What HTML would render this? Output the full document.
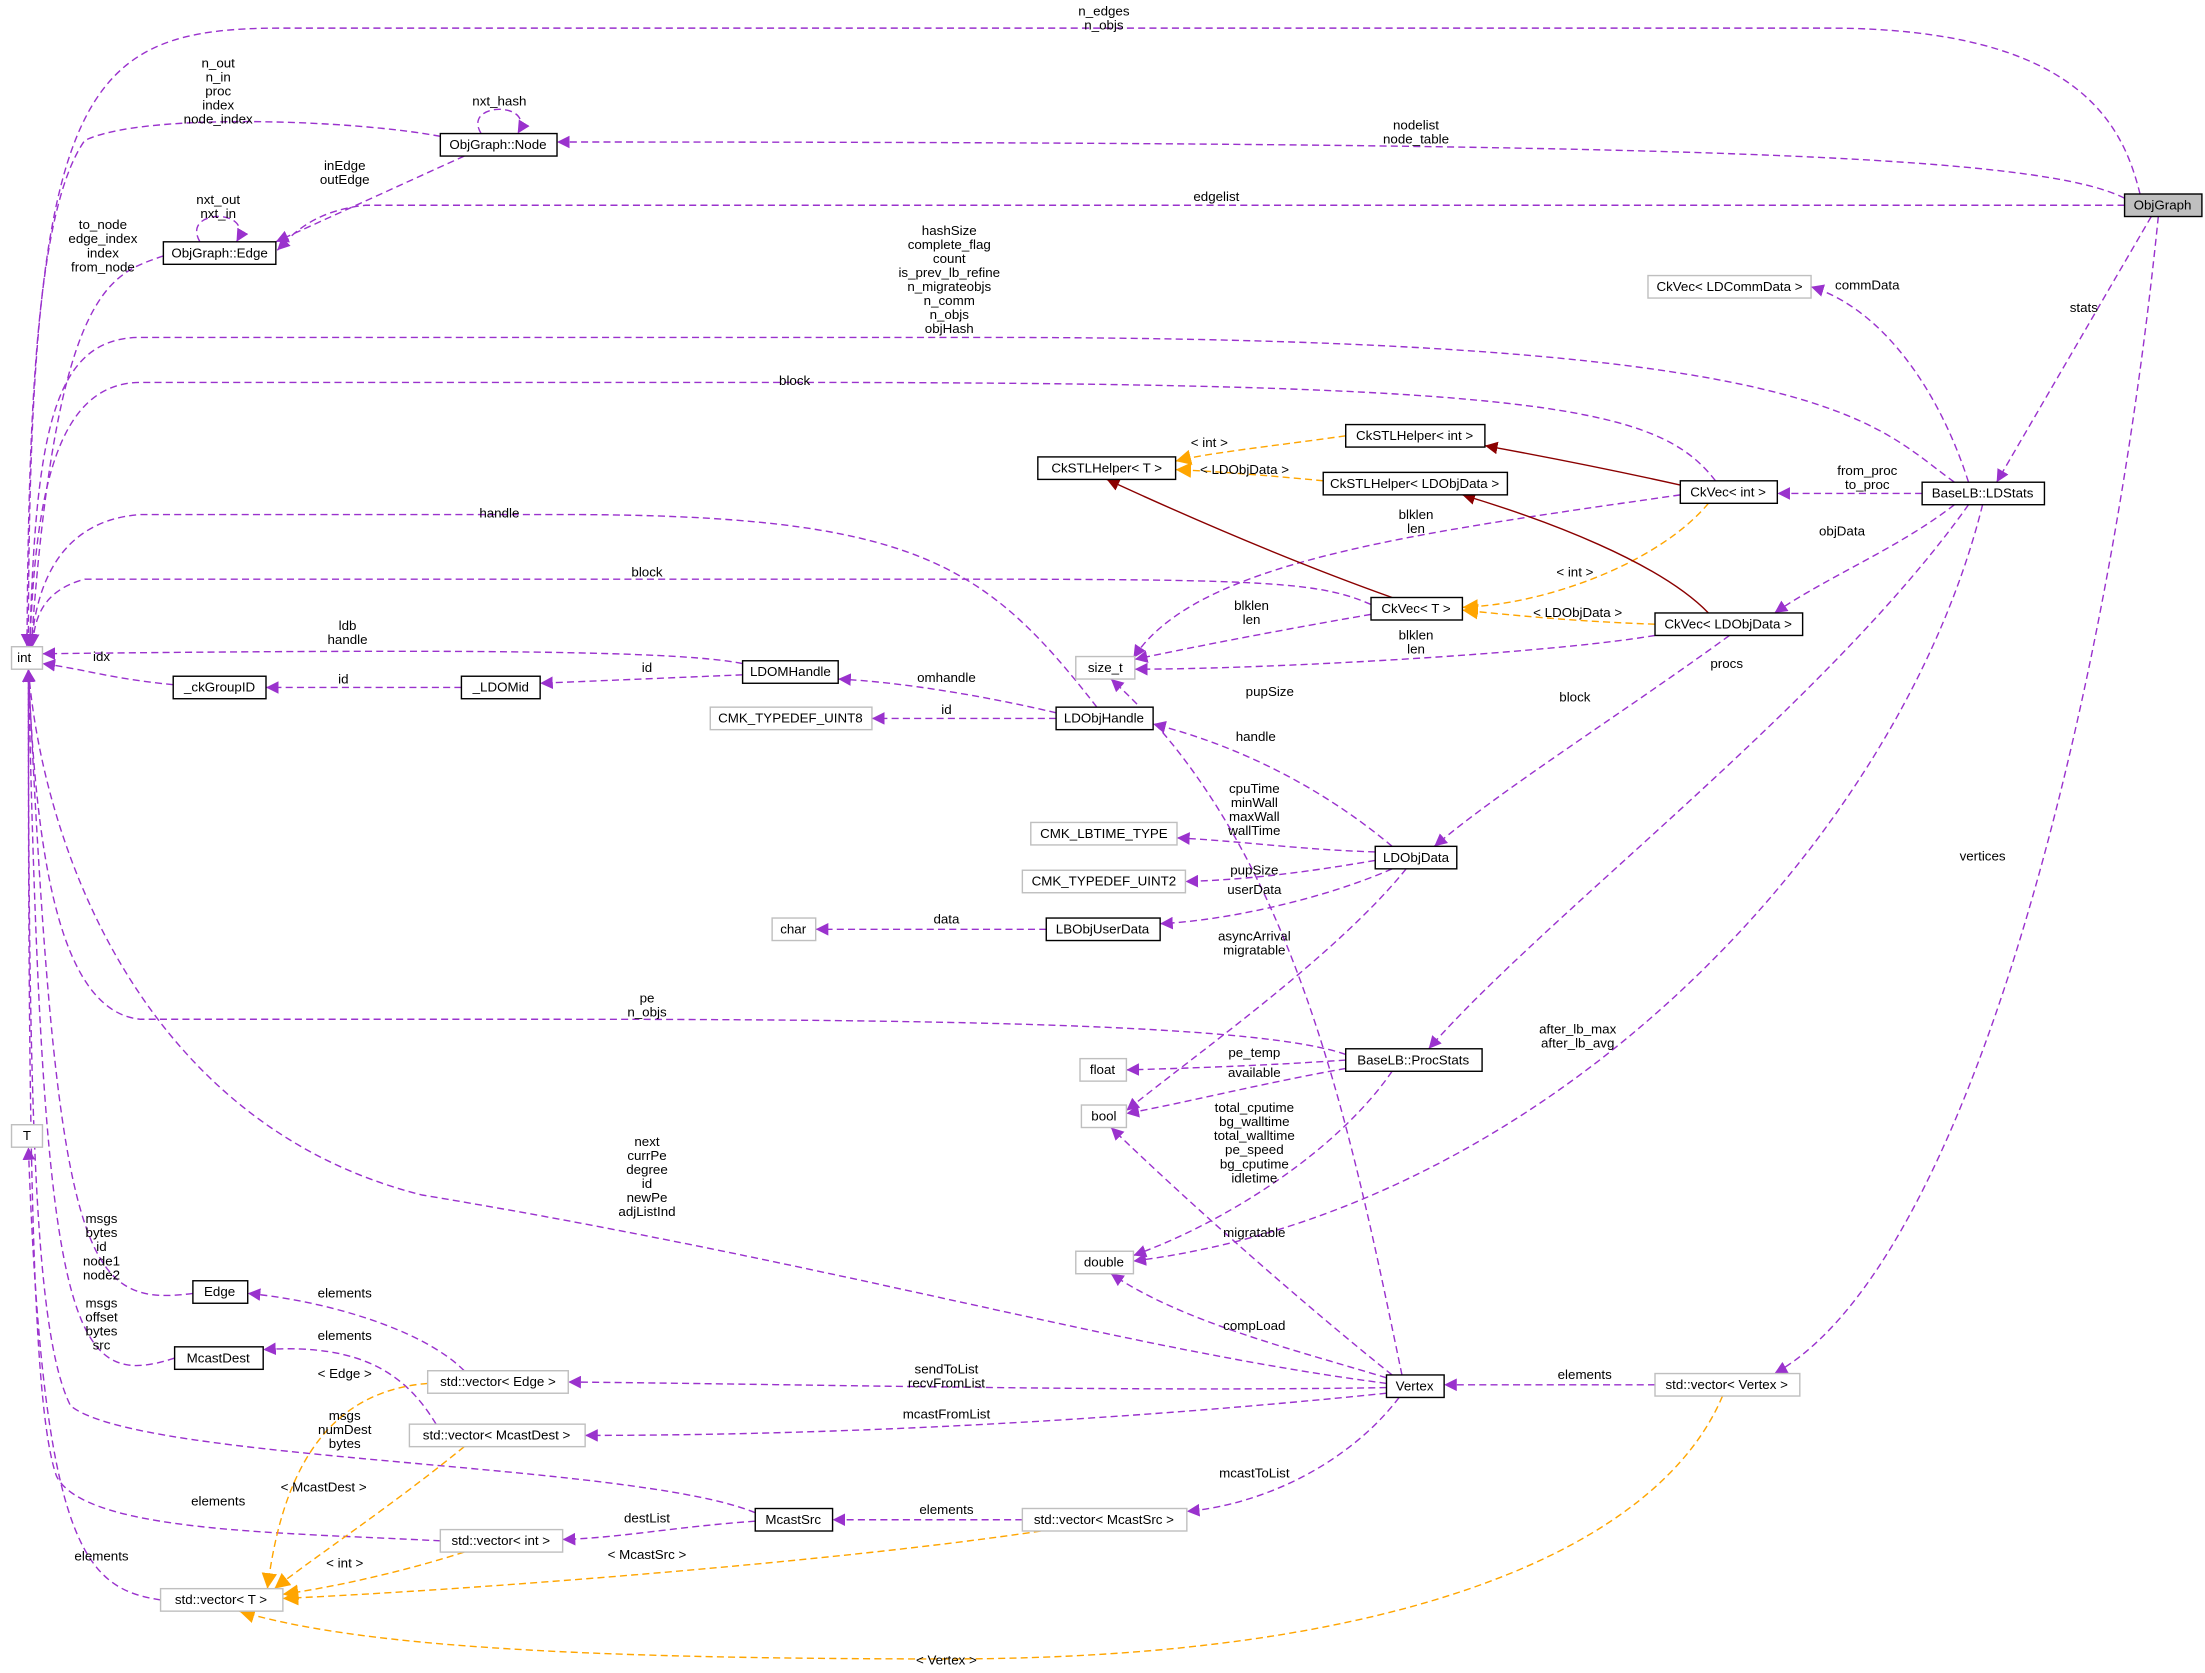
<!DOCTYPE html>
<html><head><meta charset="utf-8"><style>
html,body{margin:0;padding:0;background:#fff}
svg{display:block}
text{font-family:"Liberation Sans",sans-serif;font-size:9.5px;fill:#000}
.n rect{fill:#fff;stroke:#000;stroke-width:1}
.g rect{fill:#fff;stroke:#bfbfbf;stroke-width:1}
.p{fill:none;stroke:#9a32cd;stroke-dasharray:5,3;stroke-width:1}
.o{fill:none;stroke:#ffa500;stroke-dasharray:5,3;stroke-width:1}
.r{fill:none;stroke:#8b0000;stroke-width:1}
</style></head><body>
<svg width="2205" height="1673" viewBox="0 0 1568 1190" xmlns="http://www.w3.org/2000/svg">
<defs>
<marker id="mp" viewBox="0 0 10 10" refX="10" refY="5" markerWidth="9" markerHeight="9" orient="auto" markerUnits="userSpaceOnUse"><path d="M0,0L10,5L0,10z" fill="#9a32cd"/></marker>
<marker id="mo" viewBox="0 0 10 10" refX="10" refY="5" markerWidth="11" markerHeight="11" orient="auto" markerUnits="userSpaceOnUse"><path d="M0,0L10,5L0,10z" fill="#ffa500"/></marker>
<marker id="mr" viewBox="0 0 10 10" refX="10" refY="5" markerWidth="9" markerHeight="9" orient="auto" markerUnits="userSpaceOnUse"><path d="M0,0L10,5L0,10z" fill="#8b0000"/></marker>
</defs>
<g marker-end="url(#mp)">
<path class="p" d="M1522,138 C1510,90 1480,20 1300,20 L200,20 C60,20 20,60 20,460"/>
<path class="p" d="M1511,141 C1450,110 1200,101 396,101"/>
<path class="p" d="M1511,146 L260,146 C220,150 205,170 197,178"/>
<path class="p" d="M1530,154 L1420,343"/>
<path class="p" d="M1535,154 C1500,500 1400,900 1262,977"/>
<path class="p" d="M313,97 C250,85 100,80 60,100 C25,150 20,300 19,460"/>
<path class="p" d="M342,95 C328,72 382,72 368,95"/>
<path class="p" d="M330,111 L196,172"/>
<path class="p" d="M142,172 C128,148 182,148 168,172"/>
<path class="p" d="M116,182 C80,195 40,200 22,460"/>
<path class="p" d="M1390,343 C1330,300 1300,240 700,240 L100,240 C40,240 25,300 21,460"/>
<path class="p" d="M1220,342 C1180,290 1100,272 560,272 L100,272 C40,272 25,350 21,460"/>
<path class="p" d="M780,503 C700,400 650,366 400,366 L100,366 C40,370 25,420 22,460"/>
<path class="p" d="M975,430 C930,410 880,412 500,412 L60,412 C30,420 24,440 23,460"/>
<path class="p" d="M528,472 C480,462 300,462 30,465"/>
<path class="p" d="M123,487 C80,483 60,476 30,472"/>
<path class="p" d="M328,489 L189,489"/>
<path class="p" d="M528,480 L384,486"/>
<path class="p" d="M751,507 C700,495 640,485 596,483"/>
<path class="p" d="M751,511 L620,511"/>
<path class="p" d="M1195,352 C1000,380 850,400 806,468"/>
<path class="p" d="M975,437 C900,450 840,462 807,469"/>
<path class="p" d="M1177,452 C1100,465 900,476 807,476"/>
<path class="p" d="M1367,351 L1264,351"/>
<path class="p" d="M1390,359 C1350,390 1300,410 1262,436"/>
<path class="p" d="M1400,343 C1380,280 1340,220 1288,204"/>
<path class="p" d="M1400,359 C1300,500 1100,650 1016,746"/>
<path class="p" d="M1410,359 C1350,600 1100,860 806,897"/>
<path class="p" d="M1230,452 C1150,510 1070,560 1020,602"/>
<path class="p" d="M990,602 C940,560 880,530 820,515"/>
<path class="p" d="M978,606 C920,604 880,598 837,596"/>
<path class="p" d="M978,612 C920,622 880,626 843,627"/>
<path class="p" d="M990,618 C940,640 870,655 825,657"/>
<path class="p" d="M744,661 L580,661"/>
<path class="p" d="M1000,618 C950,680 850,750 801,790"/>
<path class="p" d="M957,750 C900,730 700,725 400,725 L100,725 C40,720 25,600 20,476"/>
<path class="p" d="M957,754 C900,758 840,760 801,761"/>
<path class="p" d="M957,760 C900,770 840,785 801,792"/>
<path class="p" d="M990,762 C950,820 870,870 806,893"/>
<path class="p" d="M986,984 C800,960 600,900 300,850 C100,800 30,600 20,476"/>
<path class="p" d="M997,978 C960,800 920,600 790,483"/>
<path class="p" d="M990,978 C930,930 850,860 790,802"/>
<path class="p" d="M986,980 C920,960 840,940 790,906"/>
<path class="p" d="M986,987 C800,990 600,985 404,983"/>
<path class="p" d="M986,991 C800,1010 600,1021 416,1021"/>
<path class="p" d="M995,994 C960,1040 900,1070 844,1075"/>
<path class="p" d="M1177,985 L1027,985"/>
<path class="p" d="M330,975 C300,945 230,925 176,920"/>
<path class="p" d="M310,1013 C290,980 260,955 187,960"/>
<path class="p" d="M137,920 C60,930 40,900 20,476"/>
<path class="p" d="M124,966 C50,990 30,950 20,476"/>
<path class="p" d="M537,1076 C450,1040 100,1040 50,1000 C25,950 20,800 20,476"/>
<path class="p" d="M313,1096 C200,1090 60,1090 40,1050 C22,1000 20,800 20,476"/>
<path class="p" d="M114,1138 C60,1130 30,1100 20,816"/>
<path class="p" d="M537,1082 C480,1086 440,1094 400,1095"/>
<path class="p" d="M727,1081 L592,1081"/>
</g>
<g marker-end="url(#mo)">
<path class="o" d="M957,310 C900,318 860,322 836,328"/>
<path class="o" d="M941,342 C900,338 860,335 836,334"/>
<path class="o" d="M1215,358 C1180,400 1100,430 1040,432"/>
<path class="o" d="M1177,444 C1120,442 1080,438 1040,434"/>
<path class="o" d="M304,984 C230,990 200,1050 190,1130"/>
<path class="o" d="M330,1029 C280,1070 220,1110 195,1130"/>
<path class="o" d="M330,1104 C280,1120 230,1130 201,1134"/>
<path class="o" d="M740,1089 C600,1110 350,1130 201,1137"/>
<path class="o" d="M1225,993 C1180,1100 1000,1180 673,1180 C400,1180 250,1170 170,1146"/>
</g>
<g marker-end="url(#mr)">
<path class="r" d="M1195,345 C1150,335 1100,325 1056,317"/>
<path class="r" d="M990,425 C920,400 850,370 787,341"/>
<path class="r" d="M1215,436 C1180,400 1100,370 1040,352"/>
</g>
<!-- edge labels -->
<g text-anchor="middle">
<text x="785" y="11">n_edges</text><text x="785" y="21">n_objs</text>
<text x="1007" y="92">nodelist</text><text x="1007" y="102">node_table</text>
<text x="865" y="143">edgelist</text>
<text x="1482" y="222">stats</text>
<text x="1410" y="612">vertices</text>
<text x="155" y="48">n_out</text><text x="155" y="58">n_in</text><text x="155" y="68">proc</text><text x="155" y="78">index</text><text x="155" y="88">node_index</text>
<text x="355" y="75">nxt_hash</text>
<text x="245" y="121">inEdge</text><text x="245" y="131">outEdge</text>
<text x="155" y="145">nxt_out</text><text x="155" y="155">nxt_in</text>
<text x="73" y="163">to_node</text><text x="73" y="173">edge_index</text><text x="73" y="183">index</text><text x="73" y="193">from_node</text>
<text x="675" y="167">hashSize</text><text x="675" y="177">complete_flag</text><text x="675" y="187">count</text><text x="675" y="197">is_prev_lb_refine</text><text x="675" y="207">n_migrateobjs</text><text x="675" y="217">n_comm</text><text x="675" y="227">n_objs</text><text x="675" y="237">objHash</text>
<text x="565" y="274">block</text>
<text x="355" y="368">handle</text>
<text x="460" y="410">block</text>
<text x="247" y="448">ldb</text><text x="247" y="458">handle</text>
<text x="72" y="470">idx</text>
<text x="244" y="486">id</text>
<text x="460" y="478">id</text>
<text x="673" y="485">omhandle</text>
<text x="673" y="508">id</text>
<text x="860" y="318">&lt; int &gt;</text>
<text x="885" y="337">&lt; LDObjData &gt;</text>
<text x="1120" y="410">&lt; int &gt;</text>
<text x="1122" y="439">&lt; LDObjData &gt;</text>
<text x="1007" y="369">blklen</text><text x="1007" y="379">len</text>
<text x="890" y="434">blklen</text><text x="890" y="444">len</text>
<text x="1007" y="455">blklen</text><text x="1007" y="465">len</text>
<text x="1328" y="338">from_proc</text><text x="1328" y="348">to_proc</text>
<text x="1310" y="381">objData</text>
<text x="1328" y="206">commData</text>
<text x="1228" y="475">procs</text>
<text x="1122" y="735">after_lb_max</text><text x="1122" y="745">after_lb_avg</text>
<text x="1120" y="499">block</text>
<text x="893" y="527">handle</text>
<text x="892" y="564">cpuTime</text><text x="892" y="574">minWall</text><text x="892" y="584">maxWall</text><text x="892" y="594">wallTime</text>
<text x="892" y="622">pupSize</text>
<text x="892" y="636">userData</text>
<text x="673" y="657">data</text>
<text x="892" y="669">asyncArrival</text><text x="892" y="679">migratable</text>
<text x="460" y="713">pe</text><text x="460" y="723">n_objs</text>
<text x="892" y="752">pe_temp</text>
<text x="892" y="766">available</text>
<text x="892" y="791">total_cputime</text><text x="892" y="801">bg_walltime</text><text x="892" y="811">total_walltime</text><text x="892" y="821">pe_speed</text><text x="892" y="831">bg_cputime</text><text x="892" y="841">idletime</text>
<text x="460" y="815">next</text><text x="460" y="825">currPe</text><text x="460" y="835">degree</text><text x="460" y="845">id</text><text x="460" y="855">newPe</text><text x="460" y="865">adjListInd</text>
<text x="903" y="495">pupSize</text>
<text x="892" y="880">migratable</text>
<text x="892" y="946">compLoad</text>
<text x="673" y="977">sendToList</text><text x="673" y="987">recvFromList</text>
<text x="673" y="1009">mcastFromList</text>
<text x="892" y="1051">mcastToList</text>
<text x="1127" y="981">elements</text>
<text x="245" y="923">elements</text>
<text x="245" y="953">elements</text>
<text x="72" y="870">msgs</text><text x="72" y="880">bytes</text><text x="72" y="890">id</text><text x="72" y="900">node1</text><text x="72" y="910">node2</text>
<text x="72" y="930">msgs</text><text x="72" y="940">offset</text><text x="72" y="950">bytes</text><text x="72" y="960">src</text>
<text x="245" y="1010">msgs</text><text x="245" y="1020">numDest</text><text x="245" y="1030">bytes</text>
<text x="155" y="1071">elements</text>
<text x="72" y="1110">elements</text>
<text x="460" y="1083">destList</text>
<text x="673" y="1077">elements</text>
<text x="245" y="980">&lt; Edge &gt;</text>
<text x="230" y="1061">&lt; McastDest &gt;</text>
<text x="245" y="1115">&lt; int &gt;</text>
<text x="460" y="1109">&lt; McastSrc &gt;</text>
<text x="673" y="1184">&lt; Vertex &gt;</text>
</g>
<!-- nodes -->
<g text-anchor="middle">
<g><rect x="1511" y="138" width="55" height="16" fill="#bfbfbf" stroke="#000"/><text x="1538" y="149">ObjGraph</text></g>
<g class="n"><rect x="313" y="95" width="83" height="16"/><text x="354" y="106">ObjGraph::Node</text></g>
<g class="n"><rect x="116" y="172" width="80" height="16"/><text x="156" y="183">ObjGraph::Edge</text></g>
<g class="g"><rect x="8" y="460" width="22" height="16"/><text x="17" y="471">int</text></g>
<g class="g"><rect x="8" y="800" width="22" height="16"/><text x="19" y="811">T</text></g>
<g class="g"><rect x="1172" y="196" width="116" height="16"/><text x="1230" y="207">CkVec&lt; LDCommData &gt;</text></g>
<g class="n"><rect x="1367" y="343" width="87" height="16"/><text x="1410" y="354">BaseLB::LDStats</text></g>
<g class="n"><rect x="957" y="302" width="99" height="16"/><text x="1006" y="313">CkSTLHelper&lt; int &gt;</text></g>
<g class="n"><rect x="738" y="325" width="98" height="16"/><text x="787" y="336">CkSTLHelper&lt; T &gt;</text></g>
<g class="n"><rect x="941" y="336" width="131" height="16"/><text x="1006" y="347">CkSTLHelper&lt; LDObjData &gt;</text></g>
<g class="n"><rect x="1195" y="342" width="69" height="16"/><text x="1229" y="353">CkVec&lt; int &gt;</text></g>
<g class="n"><rect x="975" y="425" width="65" height="16"/><text x="1007" y="436">CkVec&lt; T &gt;</text></g>
<g class="n"><rect x="1177" y="436" width="105" height="16"/><text x="1229" y="447">CkVec&lt; LDObjData &gt;</text></g>
<g class="g"><rect x="765" y="467" width="42" height="16"/><text x="786" y="478">size_t</text></g>
<g class="n"><rect x="528" y="470" width="68" height="16"/><text x="562" y="481">LDOMHandle</text></g>
<g class="n"><rect x="328" y="481" width="56" height="16"/><text x="356" y="492">_LDOMid</text></g>
<g class="n"><rect x="123" y="481" width="66" height="16"/><text x="156" y="492">_ckGroupID</text></g>
<g class="n"><rect x="751" y="503" width="69" height="16"/><text x="785" y="514">LDObjHandle</text></g>
<g class="g"><rect x="505" y="503" width="115" height="16"/><text x="562" y="514">CMK_TYPEDEF_UINT8</text></g>
<g class="n"><rect x="978" y="602" width="58" height="16"/><text x="1007" y="613">LDObjData</text></g>
<g class="g"><rect x="733" y="585" width="104" height="16"/><text x="785" y="596">CMK_LBTIME_TYPE</text></g>
<g class="g"><rect x="727" y="619" width="116" height="16"/><text x="785" y="630">CMK_TYPEDEF_UINT2</text></g>
<g class="n"><rect x="744" y="653" width="81" height="16"/><text x="784" y="664">LBObjUserData</text></g>
<g class="g"><rect x="549" y="653" width="31" height="16"/><text x="564" y="664">char</text></g>
<g class="n"><rect x="957" y="746" width="97" height="16"/><text x="1005" y="757">BaseLB::ProcStats</text></g>
<g class="g"><rect x="768" y="753" width="33" height="16"/><text x="784" y="764">float</text></g>
<g class="g"><rect x="769" y="786" width="32" height="16"/><text x="785" y="797">bool</text></g>
<g class="g"><rect x="765" y="890" width="41" height="16"/><text x="785" y="901">double</text></g>
<g class="n"><rect x="137" y="911" width="39" height="16"/><text x="156" y="922">Edge</text></g>
<g class="n"><rect x="124" y="958" width="63" height="16"/><text x="155" y="969">McastDest</text></g>
<g class="g"><rect x="304" y="975" width="100" height="16"/><text x="354" y="986">std::vector&lt; Edge &gt;</text></g>
<g class="g"><rect x="291" y="1013" width="125" height="16"/><text x="353" y="1024">std::vector&lt; McastDest &gt;</text></g>
<g class="n"><rect x="986" y="978" width="41" height="16"/><text x="1006" y="989">Vertex</text></g>
<g class="g"><rect x="1177" y="977" width="103" height="16"/><text x="1228" y="988">std::vector&lt; Vertex &gt;</text></g>
<g class="n"><rect x="537" y="1073" width="55" height="16"/><text x="564" y="1084">McastSrc</text></g>
<g class="g"><rect x="727" y="1073" width="117" height="16"/><text x="785" y="1084">std::vector&lt; McastSrc &gt;</text></g>
<g class="g"><rect x="313" y="1088" width="87" height="16"/><text x="356" y="1099">std::vector&lt; int &gt;</text></g>
<g class="g"><rect x="114" y="1130" width="87" height="16"/><text x="157" y="1141">std::vector&lt; T &gt;</text></g>
</g>
</svg>
</body></html>
